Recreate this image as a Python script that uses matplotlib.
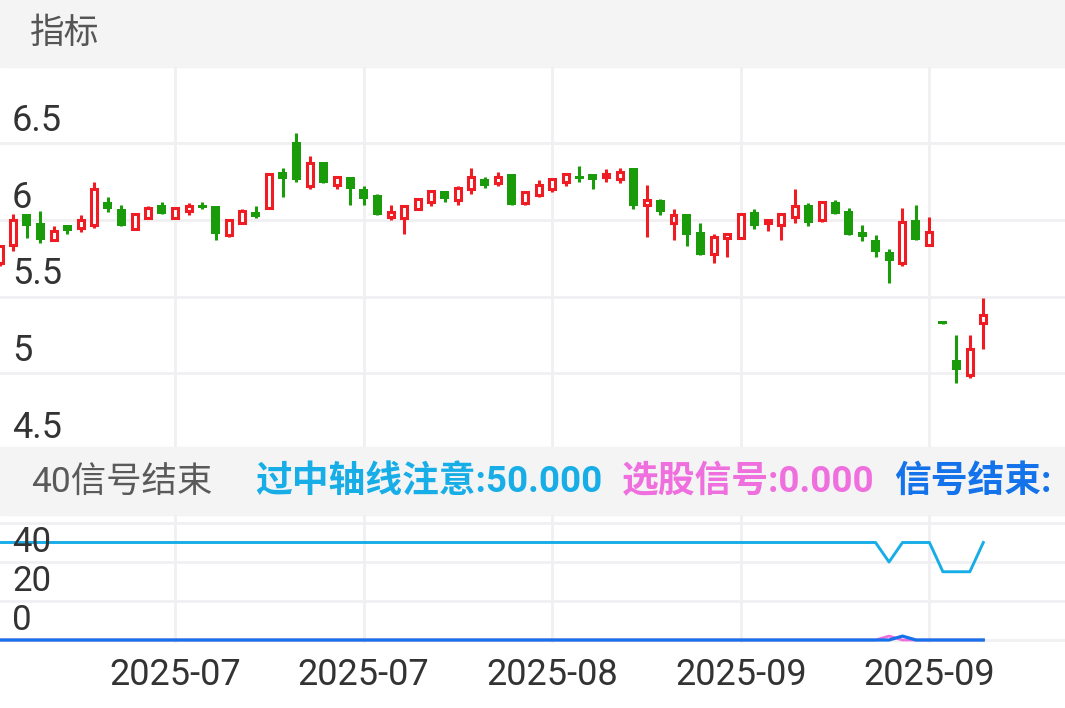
import matplotlib
matplotlib.use("Agg")
import matplotlib.pyplot as plt
from matplotlib.patches import Rectangle
from matplotlib.transforms import blended_transform_factory, offset_copy

plt.rcParams['font.family'] = ['Roboto', 'Noto Sans CJK SC', 'DejaVu Sans']

# daily candles
opens = [5.72, 5.84, 6.04, 5.98, 5.87, 5.97, 5.95, 5.97, 6.12, 6.07,
         5.94, 6.01, 6.10, 6.01, 6.06, 6.10, 6.09, 5.90, 5.98, 6.05,
         6.08, 6.31, 6.51, 6.22, 6.38, 6.23, 6.28, 6.20, 6.16, 6.02,
         6.01, 6.07, 6.12, 6.19, 6.13, 6.20, 6.27, 6.24, 6.30, 6.11,
         6.16, 6.20, 6.25, 6.29, 6.30, 6.28, 6.27, 6.34, 6.10, 6.13,
         5.98, 6.04, 5.92, 5.78, 5.88, 5.88, 6.05, 5.98, 5.97, 6.02,
         6.10, 6.00, 6.12, 6.06, 5.92, 5.87, 5.79, 5.72, 6.00, 5.84,
         5.34, 5.09, 4.99, 5.33]
highs = [5.84, 6.04, 6.04, 6.06, 5.96, 5.97, 6.03, 6.25, 6.15, 6.10,
         6.04, 6.09, 6.12, 6.08, 6.11, 6.12, 6.09, 6.00, 6.07, 6.09,
         6.30, 6.34, 6.57, 6.42, 6.38, 6.28, 6.28, 6.22, 6.17, 6.10,
         6.09, 6.14, 6.19, 6.19, 6.22, 6.34, 6.28, 6.31, 6.30, 6.19,
         6.26, 6.27, 6.30, 6.35, 6.30, 6.33, 6.34, 6.34, 6.23, 6.14,
         6.07, 6.04, 5.98, 5.91, 5.91, 6.04, 6.07, 6.00, 6.04, 6.20,
         6.11, 6.12, 6.13, 6.08, 5.97, 5.90, 5.81, 6.08, 6.10, 6.02,
         5.34, 5.25, 5.25, 5.49]
lows = [5.70, 5.80, 5.88, 5.85, 5.87, 5.91, 5.92, 5.95, 6.05, 5.96,
        5.94, 6.01, 6.04, 6.01, 6.03, 6.07, 5.87, 5.89, 5.98, 6.01,
        6.08, 6.15, 6.25, 6.20, 6.24, 6.20, 6.10, 6.10, 6.03, 6.00,
        5.91, 6.07, 6.09, 6.12, 6.10, 6.17, 6.21, 6.22, 6.10, 6.10,
        6.15, 6.18, 6.22, 6.25, 6.20, 6.25, 6.24, 6.07, 5.89, 6.03,
        5.87, 5.83, 5.77, 5.72, 5.76, 5.88, 5.94, 5.93, 5.87, 5.98,
        5.96, 5.99, 6.04, 5.90, 5.86, 5.76, 5.59, 5.70, 5.87, 5.83,
        5.32, 4.94, 4.97, 5.16]
closes = [5.83, 6.00, 5.96, 5.87, 5.93, 5.93, 6.00, 6.20, 6.07, 5.96,
          6.04, 6.08, 6.04, 6.08, 6.09, 6.08, 5.91, 6.00, 6.06, 6.02,
          6.30, 6.27, 6.26, 6.37, 6.24, 6.28, 6.20, 6.14, 6.03, 6.05,
          6.09, 6.14, 6.19, 6.14, 6.21, 6.28, 6.22, 6.28, 6.10, 6.18,
          6.23, 6.27, 6.30, 6.27, 6.26, 6.30, 6.31, 6.09, 6.13, 6.05,
          6.03, 5.90, 5.77, 5.89, 5.91, 6.04, 5.96, 6.00, 6.04, 6.09,
          5.98, 6.12, 6.04, 5.90, 5.89, 5.79, 5.73, 5.99, 5.87, 5.92,
          5.32, 5.02, 5.16, 5.38]

# indicator lines
mid_axis = [50, 50, 50, 50, 50, 50, 50, 50, 50, 50,
            50, 50, 50, 50, 50, 50, 50, 50, 50, 50,
            50, 50, 50, 50, 50, 50, 50, 50, 50, 50,
            50, 50, 50, 50, 50, 50, 50, 50, 50, 50,
            50, 50, 50, 50, 50, 50, 50, 50, 50, 50,
            50, 50, 50, 50, 50, 50, 50, 50, 50, 50,
            50, 50, 50, 50, 50, 50, 40, 50, 50, 50,
            35, 35, 35, 50]
pick_signal = [0, 0, 0, 0, 0, 0, 0, 0, 0, 0,
               0, 0, 0, 0, 0, 0, 0, 0, 0, 0,
               0, 0, 0, 0, 0, 0, 0, 0, 0, 0,
               0, 0, 0, 0, 0, 0, 0, 0, 0, 0,
               0, 0, 0, 0, 0, 0, 0, 0, 0, 0,
               0, 0, 0, 0, 0, 0, 0, 0, 0, 0,
               0, 0, 0, 0, 0, 0, 2, 0, 0, 0,
               0, 0, 0, 0]
end_signal = [0, 0, 0, 0, 0, 0, 0, 0, 0, 0,
              0, 0, 0, 0, 0, 0, 0, 0, 0, 0,
              0, 0, 0, 0, 0, 0, 0, 0, 0, 0,
              0, 0, 0, 0, 0, 0, 0, 0, 0, 0,
              0, 0, 0, 0, 0, 0, 0, 0, 0, 0,
              0, 0, 0, 0, 0, 0, 0, 0, 0, 0,
              0, 0, 0, 0, 0, 0, 0, 2, 0, 0,
              0, 0, 0, 0]

date_ticks = [13, 27, 41, 55, 69]
date_labels = ["2025-07", "2025-07", "2025-08", "2025-09", "2025-09"]
price_ticks = [6.5, 6, 5.5, 5, 4.5]
price_labels = ["6.5", "6", "5.5", "5", "4.5"]
sub_ticks = [40, 20, 0]
sub_labels = ["40", "20", "0"]

RED = "#ef1c24"
GREEN = "#1a9b0a"
CYAN = "#17ade6"
PINK = "#ee6fdd"
BLUE = "#1473ea"
GRID = "#f0f0f3"
BAND = "#f4f4f5"
TXT = "#333333"

W, H = 1065, 708
fig = plt.figure(figsize=(W / 100, H / 100), dpi=100)
fig.patch.set_facecolor("white")

# grey title bands
fig.add_artist(Rectangle((0, 1 - 67 / H), 1, 67 / H, transform=fig.transFigure,
                         color=BAND, zorder=0))
fig.add_artist(Rectangle((0, 1 - 515 / H), 1, 68 / H, transform=fig.transFigure,
                         color=BAND, zorder=0))
fig.text(30 / W, 1 - 33 / H, "指标", fontsize=25, color="#555555", va="center")
band_y = 1 - 482 / H
fig.text(31 / W, band_y, "40信号结束", fontsize=25.5, color="#5a5a5a", va="center")
fig.text(255 / W, band_y, "过中轴线注意:50.000", fontsize=26.5, color=CYAN,
         weight="bold", va="center")
fig.text(622 / W, band_y, "选股信号:0.000", fontsize=26.5, color=PINK,
         weight="bold", va="center")
fig.text(894 / W, band_y, "信号结束:", fontsize=26.5, color=BLUE,
         weight="bold", va="center")

ax = fig.add_axes([0, 1 - 447 / H, 1, 380 / H])
ax2 = fig.add_axes([0, 1 - 643 / H, 1, 128 / H])

n = len(opens)
xs = list(range(n))
xmax = W / 13.47

for a in (ax, ax2):
    a.set_xlim(0, xmax)
    for s in a.spines.values():
        s.set_visible(False)
    a.set_xticks(date_ticks)
    a.tick_params(length=0, labelleft=False)
    a.grid(True, color=GRID, linewidth=2.0)
    a.set_axisbelow(True)
    a.set_facecolor("none")

ax.set_ylim(4.521, 6.997)
ax.set_yticks(price_ticks[:-1])
ax.tick_params(labelbottom=False)

# candles
up = [c >= o for o, c in zip(opens, closes)]
wick_colors = [RED if u else GREEN for u in up]
ax.vlines(xs, lows, highs, colors=wick_colors, linewidth=2.2, zorder=2)
x_up = [x for x in xs if up[x]]
ax.bar(x_up, [closes[i] - opens[i] for i in x_up], bottom=[opens[i] for i in x_up],
       width=0.445, facecolor="white", edgecolor=RED, linewidth=2.2, zorder=3)
x_dn = [x for x in xs if not up[x]]
ax.bar(x_dn, [opens[i] - closes[i] for i in x_dn], bottom=[closes[i] for i in x_dn],
       width=0.67, color=GREEN, linewidth=0, zorder=3)

lab_tr = offset_copy(blended_transform_factory(ax.transAxes, ax.transData),
                     fig=fig, y=9, units="points")
for v, t in zip(price_ticks, price_labels):
    ax.text(12 / W, v, t, transform=lab_tr, fontsize=26, color=TXT, va="baseline")

# indicator panel
ax2.set_ylim(-1.54, 64.1)
ax2.set_yticks([0, 20, 40, 60])
ax2.set_xticklabels(date_labels)
ax2.tick_params(axis="x", labelsize=26, labelcolor=TXT, pad=10)
ax2.plot(xs, mid_axis, color=CYAN, linewidth=2.1, zorder=3)
ax2.plot(xs, pick_signal, color=PINK, linewidth=2.0, zorder=3)
ax2.plot(xs, end_signal, color=BLUE, linewidth=2.3, zorder=4)

sub_tr = offset_copy(blended_transform_factory(ax2.transAxes, ax2.transData),
                     fig=fig, y=7, units="points")
for v, t in zip(sub_ticks, sub_labels):
    ax2.text(12 / W, v, t, transform=sub_tr, fontsize=25, color=TXT, va="baseline")

fig.savefig("out.png", dpi=100)
